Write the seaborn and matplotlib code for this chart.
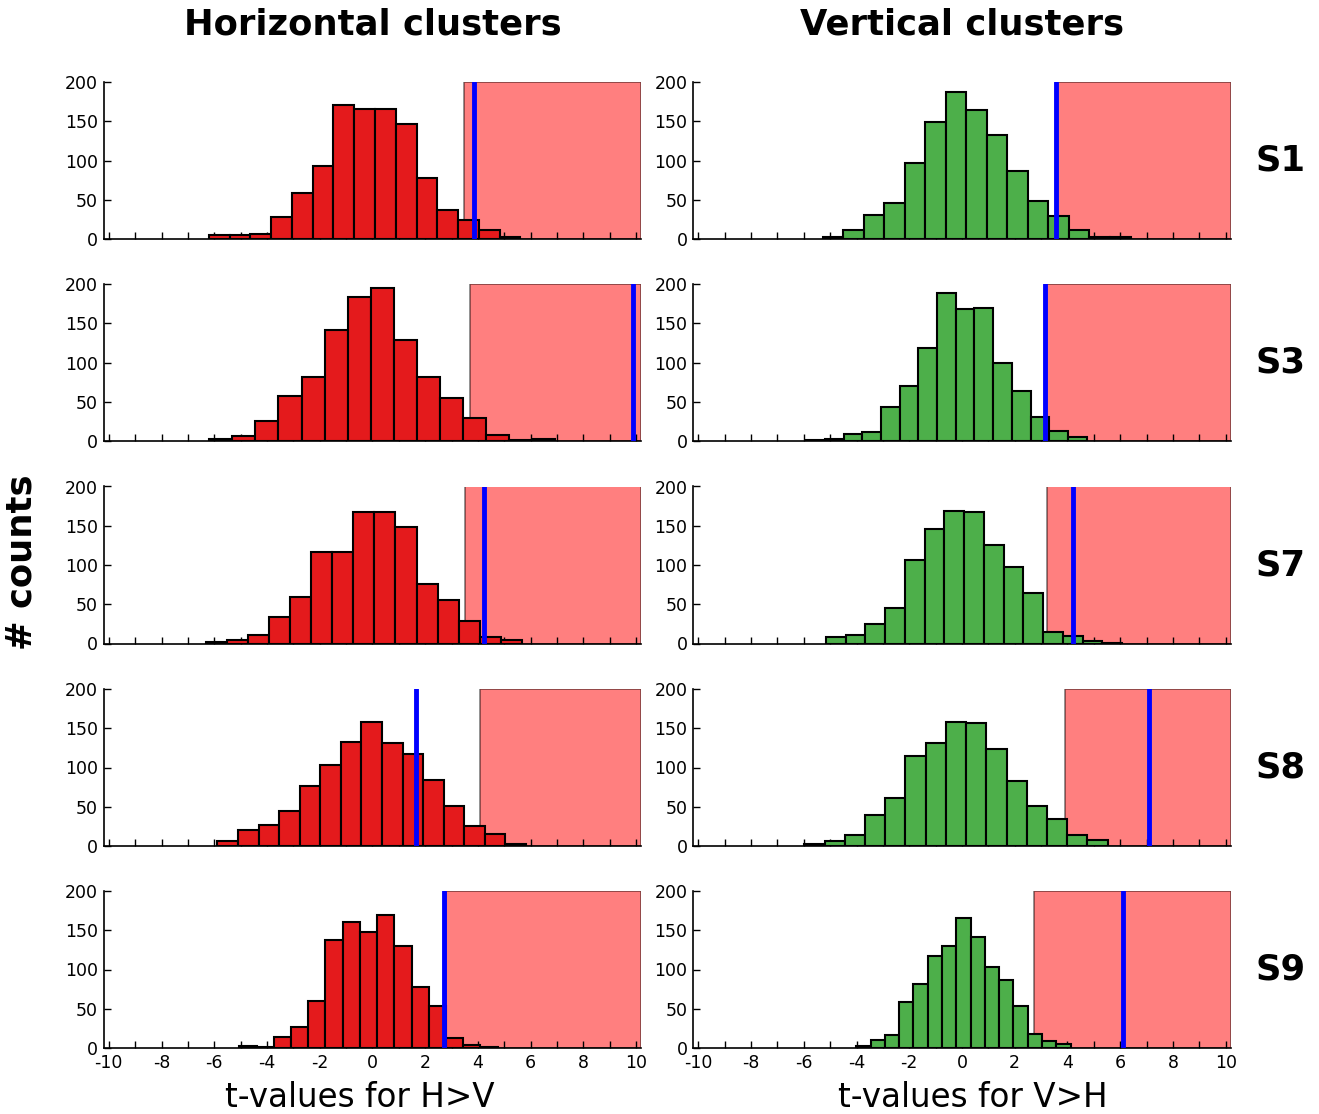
import numpy as np
import pandas as pd
import matplotlib
matplotlib.use("Agg")
import matplotlib.pyplot as plt
import seaborn as sns
from matplotlib.ticker import MultipleLocator, FuncFormatter

# Permutation distributions of cluster t-values, one histogram per subject
subjects = ["S1", "S3", "S7", "S8", "S9"]

# Horizontal clusters (H>V): first bin edge, bin width, counts per bin
h_bin_start = [-6.21, -6.19, -6.31, -5.88, -5.05]
h_bin_width = [0.788, 0.875, 0.798, 0.780, 0.653]
h_counts = [
    [5, 5, 7, 28, 59, 93, 171, 166, 165, 147, 78, 37, 24, 11, 3],
    [3, 6, 25, 57, 82, 141, 183, 195, 129, 82, 55, 29, 8, 1, 2],
    [2, 4, 11, 34, 59, 116, 116, 168, 168, 148, 76, 56, 29, 8, 4],
    [6, 21, 27, 44, 76, 103, 133, 158, 131, 117, 84, 51, 26, 15, 3],
    [2, 1, 14, 27, 60, 138, 161, 148, 170, 130, 78, 54, 13, 4, 1],
]
h_observed = [3.85, 9.88, 4.21, 1.64, 2.73]
h_threshold = [3.46, 3.69, 3.52, 4.06, 2.78]

# Vertical clusters (V>H)
v_bin_start = [-5.28, -5.91, -5.16, -5.98, -4.01]
v_bin_width = [0.778, 0.709, 0.749, 0.767, 0.542]
v_counts = [
    [2, 11, 30, 46, 97, 149, 187, 164, 133, 86, 48, 29, 12, 2, 2],
    [1, 2, 9, 12, 43, 70, 118, 189, 168, 169, 99, 64, 31, 13, 5],
    [8, 11, 25, 45, 107, 146, 169, 168, 126, 98, 64, 15, 9, 3, 1],
    [2, 6, 14, 40, 61, 115, 131, 158, 157, 123, 83, 51, 34, 14, 8],
    [3, 10, 17, 58, 81, 117, 130, 166, 141, 103, 86, 54, 18, 9, 5],
]
v_observed = [3.58, 3.14, 4.21, 7.10, 6.09]
v_threshold = [3.62, 3.19, 3.22, 3.89, 2.73]

col_titles = ["Horizontal clusters", "Vertical clusters"]
col_xlabels = ["t-values for H>V", "t-values for V>H"]
col_colors = ["#e41a1c", "#4daf4a"]
y_ticks = [0, 50, 100, 150, 200]
XMIN, XMAX = -10.2, 10.2

sns.set_theme(style="white")
plt.rcParams.update({
    "font.family": ["DejaVu Sans"],
    "text.color": "black",
    "axes.labelcolor": "black",
    "xtick.color": "black",
    "ytick.color": "black",
    "xtick.direction": "in",
    "ytick.direction": "in",
    "axes.edgecolor": "black",
    "axes.linewidth": 1.2,
})

fig = plt.figure(figsize=(13.19, 11.14), dpi=100)

W_FIG, H_FIG = 1319.0, 1114.0
col_left = [103.5, 693.0]
ax_width = 538.0
row_top = [82.0, 284.0, 486.5, 689.0, 891.0]
ax_height = 157.0
xlabel_x = [0.476, 0.521]

columns = [
    (h_bin_start, h_bin_width, h_counts, h_observed, h_threshold),
    (v_bin_start, v_bin_width, v_counts, v_observed, v_threshold),
]

for r, subj in enumerate(subjects):
    for c, (starts, widths, counts, observed, threshold) in enumerate(columns):
        rect = [col_left[c] / W_FIG,
                1 - (row_top[r] + ax_height) / H_FIG,
                ax_width / W_FIG,
                ax_height / H_FIG]
        ax = fig.add_axes(rect)

        n = len(counts[r])
        edges = starts[r] + widths[r] * np.arange(n + 1)
        df = pd.DataFrame({"t": (edges[:-1] + edges[1:]) / 2,
                           "count": counts[r]})

        # significance region beyond the threshold
        ax.axvspan(threshold[r], XMAX, facecolor="red", edgecolor="black",
                   alpha=0.5, linewidth=1.2, zorder=0)
        sns.histplot(data=df, x="t", weights="count", bins=edges.tolist(),
                     ax=ax, color=col_colors[c], edgecolor="black",
                     linewidth=1.5, alpha=1.0, zorder=1)
        ax.axvline(observed[r], color="blue", linewidth=3.5, zorder=3)

        ax.set_xlim(XMIN, XMAX)
        ax.set_ylim(0, 200)
        ax.set_yticks(y_ticks)
        ax.xaxis.set_major_locator(MultipleLocator(2))
        ax.xaxis.set_minor_locator(MultipleLocator(1))
        ax.tick_params(axis="both", which="both", direction="in",
                       length=5, width=1, color="black", labelsize=12.5,
                       labelcolor="black", pad=4,
                       top=False, right=False, bottom=True, left=True)
        ax.set_ylabel("")
        for side in ("top", "right"):
            ax.spines[side].set_visible(False)

        if r == len(subjects) - 1:
            ax.xaxis.set_major_formatter(
                FuncFormatter(lambda v, p: f"{int(round(v))}"))
            ax.set_xlabel(col_xlabels[c], fontsize=23.5)
            ax.xaxis.set_label_coords(xlabel_x[c], -0.21)
        else:
            ax.set_xlabel("")
            ax.tick_params(axis="x", labelbottom=False)

        if r == 0:
            ax.set_title(col_titles[c], fontsize=25.5, fontweight="bold", pad=34)

    fig.text(1281 / W_FIG, 1 - (row_top[r] + ax_height / 2) / H_FIG, subj,
             fontsize=25.5, fontweight="bold", ha="center", va="center")

fig.text(22 / W_FIG, 0.4955, "# counts", rotation=90, fontsize=25.5,
         fontweight="bold", ha="center", va="center")

fig.savefig("out.png", dpi=100, facecolor="white")
